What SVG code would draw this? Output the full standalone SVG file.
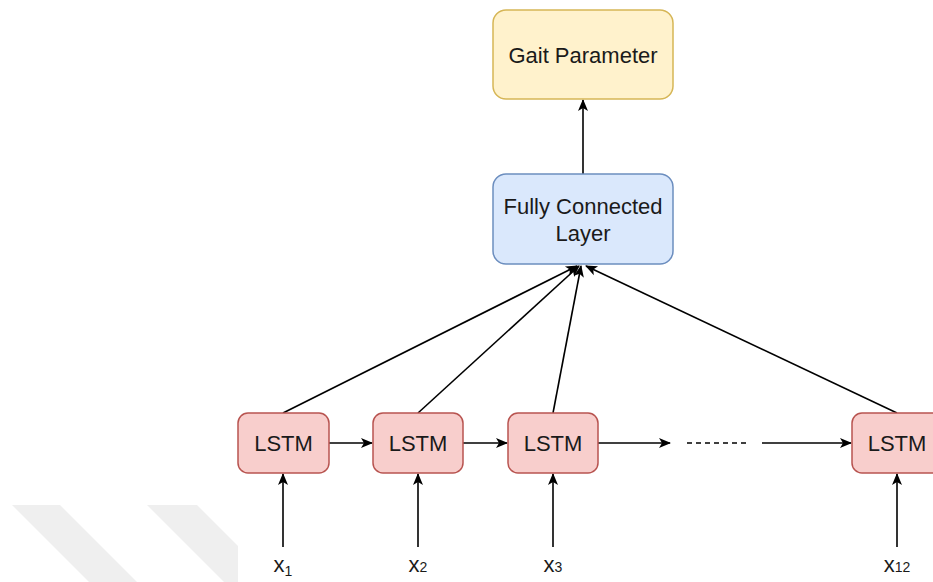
<svg xmlns="http://www.w3.org/2000/svg" width="933" height="582" viewBox="0 0 933 582">
<defs>
<style>
.t{font-family:"Liberation Sans",Arial,Helvetica,sans-serif;font-size:22px;fill:#1a1a1a;text-anchor:middle}
.lbl{font-family:"Liberation Sans",Arial,Helvetica,sans-serif;font-size:22px;fill:#1a1a1a;text-anchor:middle}
.sub{font-size:14px}
.lstm{fill:#f8cecc;stroke:#b85450;stroke-width:1.5}
.c{stroke:#000;stroke-width:1.6;fill:none;marker-end:url(#ah)}
</style>
<marker id="ah" viewBox="0 0 12 10" refX="11" refY="5" markerWidth="12" markerHeight="10" markerUnits="userSpaceOnUse" orient="auto" style="overflow:visible">
<path d="M0,0 L12,5 L0,10 L3,5 Z" fill="#000"/>
</marker>
</defs>
<rect width="933" height="582" fill="#fff"/>
<g id="watermark" fill="#efefef">
<polygon points="12,505 60,505 137,582 89,582"/>
<polygon points="147,505 197,505 238,546 238,582 224,582"/>
</g>
<g id="connectors">
<path class="c" d="M583,174 L583,100"/>
<path class="c" d="M283,413 L577,266"/>
<path class="c" d="M418,413 L579,266"/>
<path class="c" d="M553,413 L581,266"/>
<path class="c" d="M897,413 L586,266"/>
<path class="c" d="M329,443 L372,443"/>
<path class="c" d="M463,443 L507,443"/>
<path class="c" d="M598,443 L670,443"/>
<path d="M687,443 L747,443" stroke="#000" stroke-width="1.3" stroke-dasharray="5,4" fill="none"/>
<path class="c" d="M762,443 L851,443"/>
<path class="c" d="M283,547 L283,474"/>
<path class="c" d="M418,547 L418,474"/>
<path class="c" d="M553,547 L553,474"/>
<path class="c" d="M897,547 L897,474"/>
</g>
<g id="gait">
<rect x="493" y="10" width="180" height="89" rx="13" fill="#fff2cc" stroke="#d6b656" stroke-width="1.5"/>
<text class="t" x="583" y="63">Gait Parameter</text>
</g>
<g id="fc">
<rect x="493" y="174" width="180" height="90" rx="13" fill="#dae8fc" stroke="#6c8ebf" stroke-width="1.5"/>
<text class="t" x="583" y="214">Fully Connected</text>
<text class="t" x="583" y="241">Layer</text>
</g>
<g id="lstm1">
<rect class="lstm" x="238" y="413" width="91" height="60" rx="10"/>
<text class="t" x="283.5" y="451">LSTM</text>
</g>
<g id="lstm2">
<rect class="lstm" x="373" y="413" width="90" height="60" rx="10"/>
<text class="t" x="418" y="451">LSTM</text>
</g>
<g id="lstm3">
<rect class="lstm" x="508" y="413" width="90" height="60" rx="10"/>
<text class="t" x="553" y="451">LSTM</text>
</g>
<g id="lstm12">
<rect class="lstm" x="852" y="413" width="90" height="60" rx="10"/>
<text class="t" x="897" y="451">LSTM</text>
</g>
<g id="x1"><text class="lbl" x="283" y="572">x<tspan class="sub" dy="4">1</tspan></text></g>
<g id="x2"><text class="lbl" x="418" y="572">x<tspan class="sub">2</tspan></text></g>
<g id="x3"><text class="lbl" x="553" y="572">x<tspan class="sub">3</tspan></text></g>
<g id="x12"><text class="lbl" x="897" y="572">x<tspan class="sub">12</tspan></text></g>
</svg>
